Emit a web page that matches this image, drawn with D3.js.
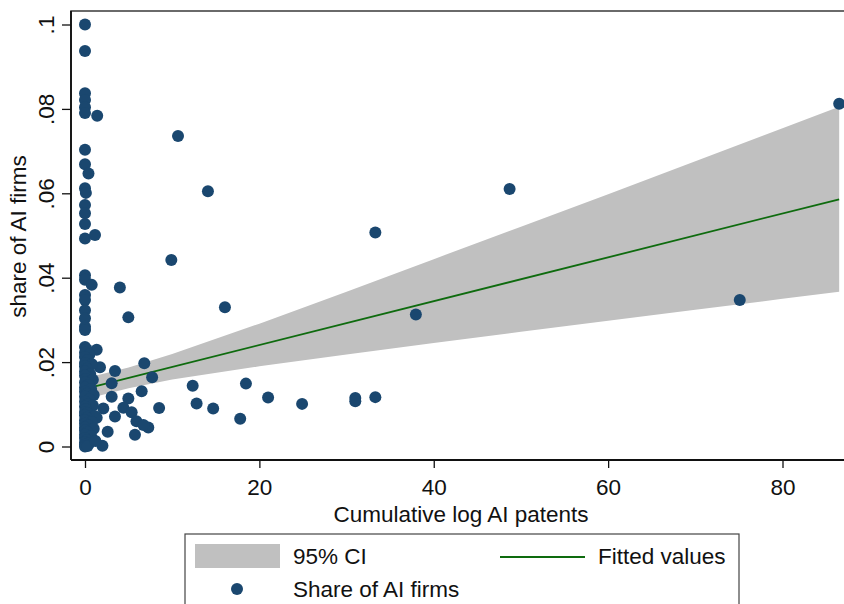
<!DOCTYPE html>
<html>
<head>
<meta charset="utf-8">
<script src="https://cdn.jsdelivr.net/npm/d3@7"></script>
<style>
  html, body { margin: 0; padding: 0; background: #ffffff; }
  svg { display: block; font-family: "Liberation Sans", Arial, sans-serif; }
</style>
</head>
<body>
<svg id="chart" width="844" height="604"></svg>
<script>
// Cumulative log AI patents (x) and share of AI firms (y), one pair per region
const patentsX = [
  0, 0, 0, 0, 0, 0, 1.4, 0, 0, 0.4, 0, 0.1, 0, 0, 0, 0, 1.15,
  0, 0, 0.77, 0, 0, 0, 0, 0, 0,
  10.67, 14.1, 9.9, 4.0, 4.97, 16.05, 33.3, 48.7, 37.95, 75.1, 86.5,
  6.8, 7.7, 12.35, 18.46, 12.8, 14.7, 17.8, 21.0, 24.9, 31.0, 31.0, 33.3,
  8.5, 7.26, 6.5, 3.44, 3.06, 3.06, 4.97, 4.4, 5.35, 3.44, 5.9, 6.7,
  2.6, 5.73, 1.72, 1.34, 2.1, 1.34, 2.0,
  0, 0.2, 0, 0.5, 0, 0.3, 0, 0.8, 0, 0.2, 0, 0.6, 0, 0.1, 0.9, 0,
  0.4, 0, 0.7, 0, 0.2, 1.0, 0, 0.5, 0, 0.3, 0.9, 0, 0.1, 0, 0.3, 0,
  1.1, 0.2, 0, 0.8, 0, 0.4, 0, 1.0, 0, 0.3, 0, 0.7, 0, 0.2, 0, 0.5,
  0, 0, 0.3, 1.2
];
const shareY = [
  0.1, 0.0937, 0.0837, 0.0821, 0.0804, 0.0790, 0.0784, 0.0703, 0.0669, 0.0647, 0.0612, 0.0601, 0.0572, 0.0553, 0.0527, 0.0493, 0.0501,
  0.0406, 0.0395, 0.0383, 0.0359, 0.0347, 0.0323, 0.0304, 0.0284, 0.0276,
  0.0736, 0.0605, 0.0442, 0.0377, 0.0306, 0.0330, 0.0507, 0.0610, 0.0313, 0.0347, 0.0812,
  0.0197, 0.0164, 0.0144, 0.0149, 0.0102, 0.0090, 0.0066, 0.0116, 0.0101, 0.0115, 0.0107, 0.0117,
  0.0091, 0.0045, 0.0131, 0.0179, 0.0150, 0.0118, 0.0114, 0.0092, 0.0081, 0.0071, 0.0060, 0.0051,
  0.0035, 0.0028, 0.0188, 0.0229, 0.0090, 0.0068, 0.0002,
  0.0236, 0.0230, 0.0222, 0.0218, 0.0212, 0.0205, 0.0198, 0.0195, 0.0190, 0.0184, 0.0178, 0.0172, 0.0168, 0.0160, 0.0158, 0.0152,
  0.0146, 0.0140, 0.0136, 0.0130, 0.0125, 0.0122, 0.0118, 0.0112, 0.0106, 0.0100, 0.0097, 0.0094, 0.0088, 0.0082, 0.0078, 0.0074,
  0.0072, 0.0068, 0.0062, 0.0058, 0.0054, 0.0050, 0.0045, 0.0042, 0.0038, 0.0033, 0.0028, 0.0025, 0.0020, 0.0015, 0.0010, 0.0008,
  0.0004, 0.0, 0.0001, 0.0013
];

// Linear fit and its 95% confidence band, sampled along x
const fitX = [0, 86.5];
const fitY = [0.01368, 0.05858];
const ciX  = [0, 5, 10, 20, 30, 40, 50, 60, 70, 80, 86.5];
const ciLo = [0.0112, 0.0138, 0.0159, 0.0190, 0.0218, 0.0245, 0.0272, 0.0298, 0.0324, 0.0350, 0.0367];
const ciHi = [0.0162, 0.0187, 0.0219, 0.0291, 0.0367, 0.0444, 0.0521, 0.0598, 0.0676, 0.0754, 0.0805];

// Axis ticks
const xTicks = [0, 20, 40, 60, 80];
const yTicks = [0, 0.02, 0.04, 0.06, 0.08, 0.1];
const yTickLabels = ["0", ".02", ".04", ".06", ".08", ".1"];

const navy = "#1a476f";
const green = "#0e6b0e";
const band = "#c0c0c0";
const ink = "#111";
const fontSize = 22.5;

const svg = d3.select("#chart");
const x = d3.scaleLinear().domain([0, 80]).range([85, 782.5]);
const y = d3.scaleLinear().domain([0, 0.1]).range([446.5, 24.5]);

const plotLeft = 71, plotTop = 11, plotBottom = 460;

// Plot region outline (top edge runs off the right of the canvas)
svg.append("path")
  .attr("d", `M${plotLeft},${plotBottom} V${plotTop} H${860}`)
  .attr("fill", "none").attr("stroke", "#3a3a3a").attr("stroke-width", 1.6);

// Confidence band
const ciData = ciX.map((v, i) => ({ x: v, lo: ciLo[i], hi: ciHi[i] }));
svg.append("path")
  .datum(ciData)
  .attr("fill", band)
  .attr("d", d3.area().x(d => x(d.x)).y0(d => y(d.lo)).y1(d => y(d.hi)));

// Fitted line
const fitData = fitX.map((v, i) => ({ x: v, y: fitY[i] }));
svg.append("path")
  .datum(fitData)
  .attr("fill", "none").attr("stroke", green).attr("stroke-width", 1.8)
  .attr("d", d3.line().x(d => x(d.x)).y(d => y(d.y)));

// Scatter points
const pts = patentsX.map((v, i) => ({ x: v, y: shareY[i] }));
svg.append("g").selectAll("circle")
  .data(pts).join("circle")
  .attr("cx", d => x(d.x)).attr("cy", d => y(d.y)).attr("r", 6)
  .attr("fill", navy);

// Y axis
const yAxis = svg.append("g").attr("transform", `translate(${plotLeft},0)`)
  .call(d3.axisLeft(y).tickValues(yTicks).tickSize(9).tickPadding(0)
    .tickFormat((d, i) => yTickLabels[i]));
yAxis.select(".domain").attr("d", `M0,${plotTop}V${plotBottom}`).attr("stroke", ink).attr("stroke-width", 1.8);
yAxis.selectAll(".tick line").attr("stroke", ink).attr("stroke-width", 1.3);
yAxis.selectAll(".tick text")
  .attr("font-size", fontSize).attr("fill", ink)
  .attr("text-anchor", "middle")
  .attr("x", null).attr("dy", null)
  .attr("transform", "translate(-17,0) rotate(-90)");

// X axis
const xAxis = svg.append("g").attr("transform", `translate(0,${plotBottom})`)
  .call(d3.axisBottom(x).tickValues(xTicks).tickSize(8));
xAxis.select(".domain").attr("d", `M${plotLeft},0H860`).attr("stroke", ink).attr("stroke-width", 1.8);
xAxis.selectAll(".tick line").attr("stroke", ink).attr("stroke-width", 1.3);
xAxis.selectAll(".tick text").attr("font-size", fontSize).attr("fill", ink)
  .attr("y", 35).attr("dy", null);

// Axis titles
svg.append("text")
  .attr("x", 461).attr("y", 522)
  .attr("text-anchor", "middle").attr("font-size", fontSize).attr("fill", ink)
  .text("Cumulative log AI patents");
svg.append("text")
  .attr("transform", "translate(26,236.5) rotate(-90)")
  .attr("text-anchor", "middle").attr("font-size", fontSize).attr("fill", ink)
  .text("share of AI firms");

// Legend
const lg = svg.append("g");
lg.append("rect").attr("x", 185).attr("y", 534).attr("width", 554).attr("height", 90)
  .attr("fill", "#fff").attr("stroke", "#444").attr("stroke-width", 1.2);
lg.append("rect").attr("x", 195).attr("y", 544).attr("width", 85).attr("height", 24).attr("fill", band);
lg.append("text").attr("x", 293).attr("y", 564).attr("font-size", fontSize).attr("fill", ink).text("95% CI");
lg.append("line").attr("x1", 500).attr("x2", 585).attr("y1", 557).attr("y2", 557)
  .attr("stroke", green).attr("stroke-width", 1.8);
lg.append("text").attr("x", 598).attr("y", 564).attr("font-size", fontSize).attr("fill", ink).text("Fitted values");
lg.append("circle").attr("cx", 237).attr("cy", 589).attr("r", 6).attr("fill", navy);
lg.append("text").attr("x", 293).attr("y", 597).attr("font-size", fontSize).attr("fill", ink).text("Share of AI firms");
</script>
</body>
</html>
